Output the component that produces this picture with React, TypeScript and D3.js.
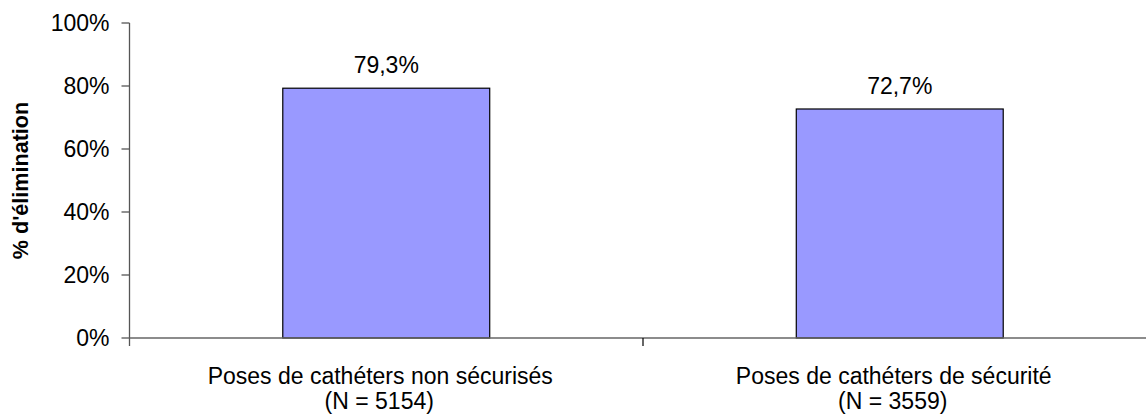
import React from "react";
import * as d3 from "d3";

// data
const categories = ["Poses de cathéters non sécurisés", "Poses de cathéters de sécurité"];
const counts = ["(N = 5154)", "(N = 3559)"];
const values = [0.793, 0.727];
const valueLabels = ["79,3%", "72,7%"];
const yTicks = [0, 0.2, 0.4, 0.6, 0.8, 1];
const yTitle = "% d'élimination";

const W = 1146;
const H = 414;
const margin = { top: 23, left: 129.5, bottom: 76 };
const plotRight = 1156.5; // plot area runs past the image edge
const font = "'Liberation Sans', Arial, sans-serif";

const App = () => {
  const x = d3
    .scaleBand<string>()
    .domain(categories)
    .range([margin.left, plotRight])
    .padding(0);
  const y = d3
    .scaleLinear()
    .domain([0, 1])
    .range([H - margin.bottom, margin.top]);

  const barW = x.bandwidth() * 0.403;
  const fmt = (d: number) => Math.round(d * 100) + "%";
  const y0 = y(0);

  return (
    <svg
      width={W}
      height={H}
      style={{ position: "absolute", left: 0, top: 0, background: "#fff" }}
      fontFamily={font}
    >
      {/* bars */}
      {categories.map((c, i) => {
        const cx = (x(c) as number) + x.bandwidth() / 2;
        return (
          <g key={c}>
            <rect
              x={cx - barW / 2}
              y={y(values[i])}
              width={barW}
              height={y0 - y(values[i])}
              fill="#9999ff"
              stroke="#000"
              strokeWidth={1.2}
            />
            <text
              x={cx}
              y={y(values[i]) - 15}
              textAnchor="middle"
              fontSize={23}
              fill="#000"
            >
              {valueLabels[i]}
            </text>
            <text x={cx - 6} y={384} textAnchor="middle" fontSize={23} fill="#000">
              {c}
            </text>
            <text x={cx - 7} y={409} textAnchor="middle" fontSize={23} fill="#000">
              {counts[i]}
            </text>
          </g>
        );
      })}

      {/* y axis */}
      <line
        x1={margin.left}
        x2={margin.left}
        y1={margin.top}
        y2={y0 + 8}
        stroke="#555"
        strokeWidth={1.3}
      />
      {yTicks.map((t) => (
        <g key={t}>
          <line
            x1={margin.left - 8}
            x2={margin.left}
            y1={y(t)}
            y2={y(t)}
            stroke="#555"
            strokeWidth={1.3}
          />
          <text
            x={margin.left - 20}
            y={y(t)}
            dy="0.36em"
            textAnchor="end"
            fontSize={23}
            fill="#000"
          >
            {fmt(t)}
          </text>
        </g>
      ))}

      {/* x axis */}
      <line
        x1={margin.left}
        x2={plotRight}
        y1={y0}
        y2={y0}
        stroke="#666"
        strokeWidth={1.5}
      />
      {categories.slice(1).map((c) => (
        <line
          key={c}
          x1={x(c) as number}
          x2={x(c) as number}
          y1={y0}
          y2={y0 + 8}
          stroke="#000"
          strokeWidth={1.2}
        />
      ))}

      {/* y title */}
      <text
        transform={`translate(27.5, ${(margin.top + y0) / 2}) rotate(-90)`}
        textAnchor="middle"
        fontSize={21.6}
        fontWeight="bold"
        fill="#000"
      >
        {yTitle}
      </text>
    </svg>
  );
};

export default App;
